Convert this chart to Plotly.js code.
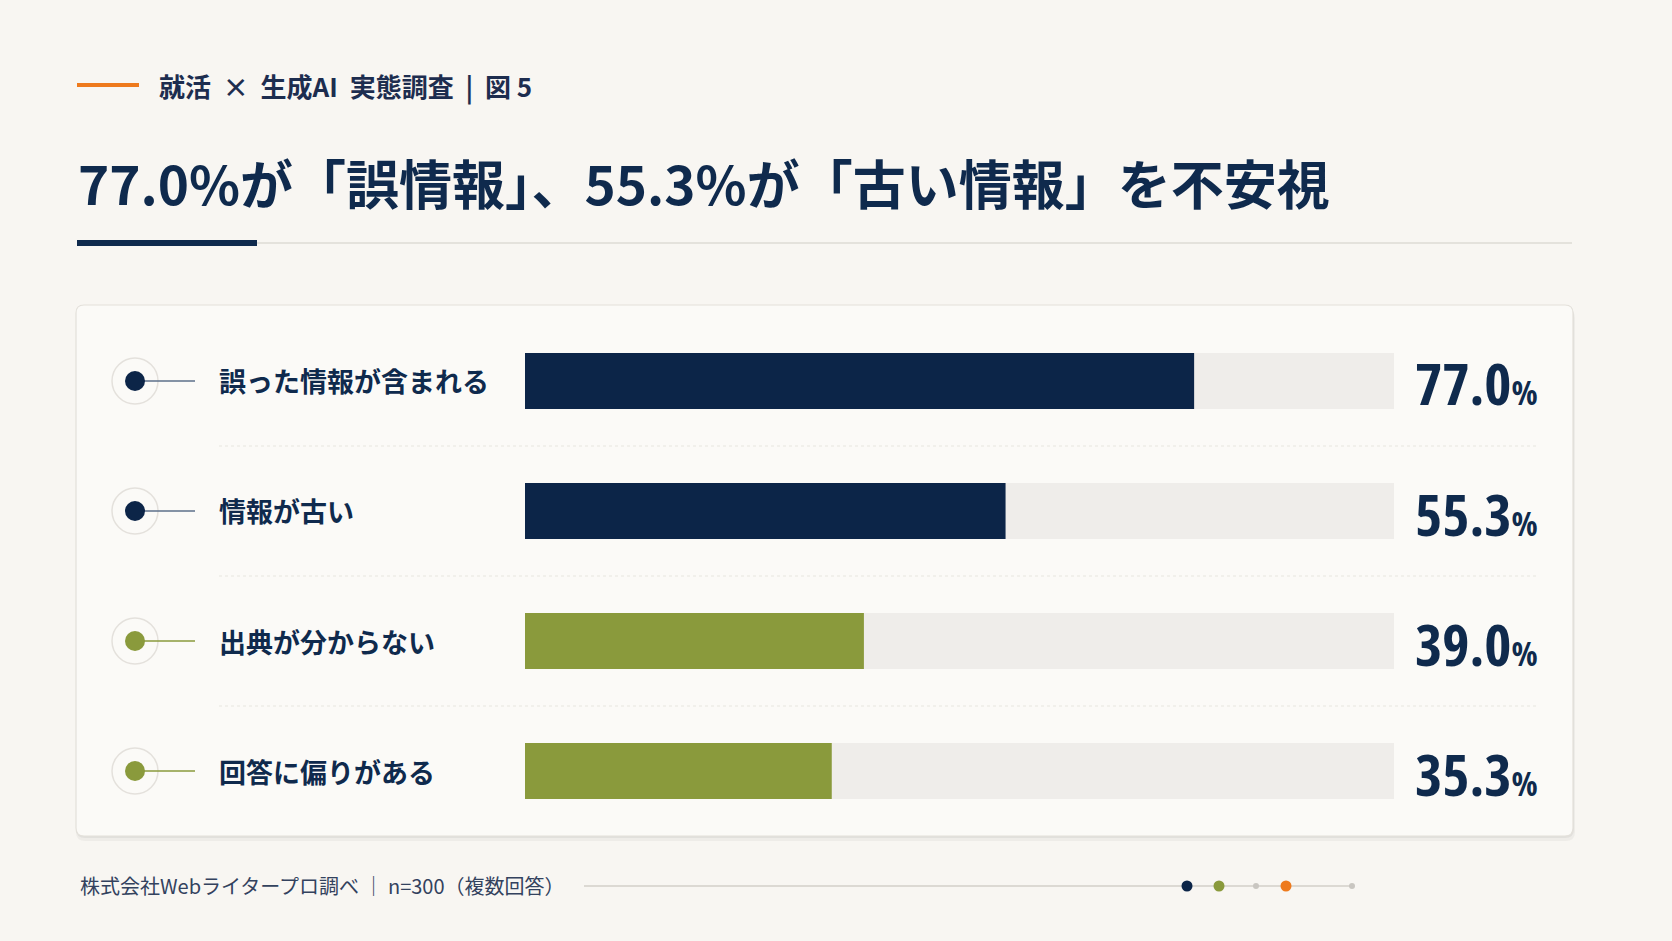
<!DOCTYPE html>
<html>
<head>
<meta charset="utf-8">
<script src="https://cdn.plot.ly/plotly-3.0.1.min.js"></script>
<style>
  html, body { margin: 0; padding: 0; background: #f8f6f2; }
  #chart { width: 1672px; height: 941px; }
  text.annotation-text[style*="Open Sans"] { font-stretch: 75%; }
</style>
</head>
<body>
<div id="chart"></div>
<script>
// data
var categories = ['誤った情報が含まれる', '情報が古い', '出典が分からない', '回答に偏りがある'];
var values = [77.0, 55.3, 39.0, 35.3];
var barColors = ['#0c2548', '#0c2548', '#8a9a3c', '#8a9a3c'];
var trackMax = 100;

var W = 1672, H = 941;
var NAVY = '#0f2a4d';
var JP = '"Noto Sans CJK JP", "Noto Sans", sans-serif';
var NUM = '"Open Sans", sans-serif';
var SP = '\u00a0';

// pixel -> paper helpers
var px = function (x) { return x / W; };
var py = function (y) { return 1 - y / H; };

function roundRect(x0, y0, x1, y1, r) {
    return 'M' + px(x0 + r) + ',' + py(y0) +
        ' L' + px(x1 - r) + ',' + py(y0) +
        ' Q' + px(x1) + ',' + py(y0) + ' ' + px(x1) + ',' + py(y0 + r) +
        ' L' + px(x1) + ',' + py(y1 - r) +
        ' Q' + px(x1) + ',' + py(y1) + ' ' + px(x1 - r) + ',' + py(y1) +
        ' L' + px(x0 + r) + ',' + py(y1) +
        ' Q' + px(x0) + ',' + py(y1) + ' ' + px(x0) + ',' + py(y1 - r) +
        ' L' + px(x0) + ',' + py(y0 + r) +
        ' Q' + px(x0) + ',' + py(y0) + ' ' + px(x0 + r) + ',' + py(y0) + ' Z';
}

var traces = [
    {
        type: 'bar',
        orientation: 'h',
        y: categories,
        x: categories.map(function () { return trackMax; }),
        marker: { color: '#efedea' },
        width: 0.43,
        hoverinfo: 'skip'
    },
    {
        type: 'bar',
        orientation: 'h',
        y: categories,
        x: values,
        marker: { color: barColors },
        width: 0.43,
        hoverinfo: 'skip'
    }
];

var shapes = [];
var annotations = [];

// card with soft shadow
shapes.push({ type: 'path', xref: 'paper', yref: 'paper', layer: 'below',
    path: roundRect(76, 309, 1575, 841, 9), fillcolor: 'rgba(0,0,0,0.04)', line: { width: 0 } });
shapes.push({ type: 'path', xref: 'paper', yref: 'paper', layer: 'below',
    path: roundRect(76, 306, 1574, 838, 9), fillcolor: 'rgba(0,0,0,0.05)', line: { width: 0 } });
shapes.push({ type: 'path', xref: 'paper', yref: 'paper', layer: 'below',
    path: roundRect(76, 305, 1573, 836, 8), fillcolor: '#fbfaf7', line: { color: '#e3e0da', width: 1.2 } });

// header
shapes.push({ type: 'line', xref: 'paper', yref: 'paper', x0: px(77), x1: px(139), y0: py(85), y1: py(85),
    line: { color: '#ee7a1d', width: 4 } });
shapes.push({ type: 'line', xref: 'paper', yref: 'paper', x0: px(257), x1: px(1572), y0: py(243), y1: py(243),
    line: { color: '#dedbd5', width: 1.5 } });
shapes.push({ type: 'rect', xref: 'paper', yref: 'paper', x0: px(77), x1: px(257), y0: py(240), y1: py(246),
    fillcolor: NAVY, line: { width: 0 } });

annotations.push({ xref: 'paper', yref: 'paper', x: px(157), y: py(86), xanchor: 'left', yanchor: 'middle',
    showarrow: false,
    text: '就活' + SP + SP + '×' + SP + SP + '生成AI' + SP + SP + '実態調査' + SP + SP + '|' + SP + SP + '図' + SP + '5',
    font: { family: JP, size: 26, color: '#1d2d4f', weight: 700 } });
annotations.push({ xref: 'paper', yref: 'paper', x: px(76), y: py(182), xanchor: 'left', yanchor: 'middle',
    showarrow: false, text: '77.0%が「誤情報」、55.3%が「古い情報」を不安視',
    font: { family: JP, size: 53, color: NAVY, weight: 700 } });

// rows: markers, labels, values, separators
categories.forEach(function (c, i) {
    var col = barColors[i];
    shapes.push({ type: 'circle', xref: 'paper', yref: 'y', xsizemode: 'pixel', ysizemode: 'pixel',
        xanchor: px(135), yanchor: i, x0: -23, x1: 23, y0: -23, y1: 23,
        fillcolor: 'rgba(0,0,0,0)', line: { color: '#e4e1dc', width: 1.5 } });
    shapes.push({ type: 'line', xref: 'paper', yref: 'y', x0: px(135), x1: px(195), y0: i, y1: i,
        line: { color: i < 2 ? '#5d6f8a' : col, width: 1.5 } });
    shapes.push({ type: 'circle', xref: 'paper', yref: 'y', xsizemode: 'pixel', ysizemode: 'pixel',
        xanchor: px(135), yanchor: i, x0: -10, x1: 10, y0: -10, y1: 10,
        fillcolor: col, line: { width: 0 } });
    annotations.push({ xref: 'paper', yref: 'y', x: px(217), y: i, xanchor: 'left', yanchor: 'middle',
        showarrow: false, text: c, font: { family: JP, size: 27, color: NAVY, weight: 700 } });
    annotations.push({ xref: 'paper', yref: 'y', x: px(1413), y: i, xanchor: 'left', yanchor: 'middle',
        showarrow: false, yshift: -2,
        text: values[i].toFixed(1) + '<span style="font-size:34px">%</span>',
        font: { family: NUM, size: 58, color: NAVY, weight: 700 } });
    if (i < categories.length - 1) {
        shapes.push({ type: 'line', xref: 'paper', yref: 'y', x0: px(219), x1: px(1539), y0: i + 0.5, y1: i + 0.5,
            line: { color: '#e8e5e0', width: 1.2, dash: 'dot' } });
    }
});

// footer
annotations.push({ xref: 'paper', yref: 'paper', x: px(78), y: py(885), xanchor: 'left', yanchor: 'middle',
    showarrow: false, text: '株式会社Webライタープロ調べ' + SP + '｜' + SP + 'n=300（複数回答）',
    font: { family: JP, size: 20, color: '#33425e' } });
shapes.push({ type: 'line', xref: 'paper', yref: 'paper', x0: px(584), x1: px(1354), y0: py(886), y1: py(886),
    line: { color: '#dcd9d3', width: 2 } });
[[1187, 5.5, '#0c2548'], [1219, 5.5, '#8a9a3c'], [1256, 3, '#c9c6c1'], [1286, 5.5, '#ee7a1d'], [1352, 3, '#c9c6c1']]
    .forEach(function (d) {
        shapes.push({ type: 'circle', xref: 'paper', yref: 'paper', xsizemode: 'pixel', ysizemode: 'pixel',
            xanchor: px(d[0]), yanchor: py(886), x0: -d[1], x1: d[1], y0: -d[1], y1: d[1],
            fillcolor: d[2], line: { width: 0 } });
    });

var layout = {
    width: W,
    height: H,
    margin: { l: 0, r: 0, t: 0, b: 0 },
    paper_bgcolor: '#f8f6f2',
    plot_bgcolor: 'rgba(0,0,0,0)',
    showlegend: false,
    barmode: 'overlay',
    xaxis: {
        domain: [px(525), px(1394)],
        range: [0, trackMax],
        visible: false,
        fixedrange: true
    },
    yaxis: {
        type: 'category',
        categoryorder: 'array',
        categoryarray: categories,
        domain: [py(836), py(316)],
        range: [3.5, -0.5],
        visible: false,
        fixedrange: true
    },
    shapes: shapes,
    annotations: annotations
};

Plotly.newPlot('chart', traces, layout, { staticPlot: true, displayModeBar: false });
</script>
</body>
</html>
